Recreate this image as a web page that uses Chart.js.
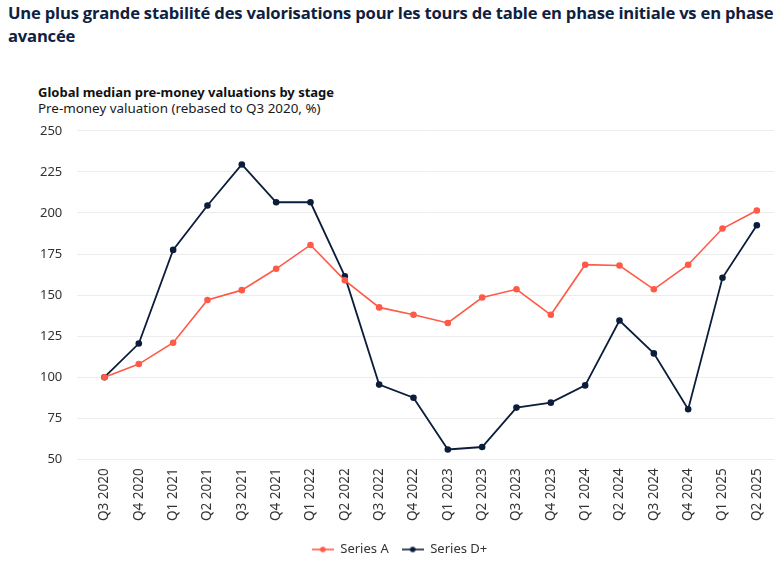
<!DOCTYPE html>
<html>
<head>
<meta charset="utf-8">
<script src="https://cdn.jsdelivr.net/npm/chart.js@4"></script>
<style>
  html, body { margin: 0; padding: 0; background: #fff; }
  body { width: 783px; height: 565px; position: relative; overflow: hidden; font-family: "Noto Sans", sans-serif; }
  #heading {
    position: absolute; left: 8px; top: 1px; width: 770px;
    font-family: "Open Sans", "Noto Sans", sans-serif; font-weight: 700; font-size: 16.6px;
    line-height: 23px; color: #0f2140; letter-spacing: -0.2px;
  }
  .sub { position: absolute; left: 38px; font-size: 13.4px; line-height: 16px; color: #1a1a1a; white-space: nowrap; }
  #sub1 { top: 84px; font-weight: 700; font-size: 13px; color: #111; }
  #sub2 { top: 100px; }
  #wrap { position: absolute; left: 25px; top: 108px; width: 758px; height: 458px; }
</style>
</head>
<body>
<div id="heading">Une plus grande stabilité des valorisations pour les tours de table en phase initiale vs en phase avancée</div>
<div class="sub" id="sub1">Global median pre-money valuations by stage</div>
<div class="sub" id="sub2">Pre-money valuation (rebased to Q3 2020, %)</div>
<div id="wrap"><canvas id="chart"></canvas></div>
<script>
// quarters on the x axis
const quarters = ['Q3 2020', 'Q4 2020', 'Q1 2021', 'Q2 2021', 'Q3 2021', 'Q4 2021', 'Q1 2022', 'Q2 2022',
    'Q3 2022', 'Q4 2022', 'Q1 2023', 'Q2 2023', 'Q3 2023', 'Q4 2023', 'Q1 2024', 'Q2 2024',
    'Q3 2024', 'Q4 2024', 'Q1 2025', 'Q2 2025'];

// rebased pre-money valuations (Q3 2020 = 100)
const seriesA = [100, 108, 121, 147, 153, 166, 180.5, 159, 142.5, 138, 133, 148.5, 153.5, 138,
    168.5, 168, 153.5, 168.5, 190.5, 201.5];
const seriesD = [100, 120.5, 177.5, 204.5, 229.5, 206.5, 206.5, 161.5, 95.5, 87.5, 56, 57.5, 81.5, 84.5,
    95, 134.5, 114.5, 80.5, 160.5, 192.5];

const yTicks = [50, 75, 100, 125, 150, 175, 200, 225, 250];

const orange = '#ff5a47';
const navy = '#0c1d3b';

// small legend marker: line with a dot in the middle
function legendMarker(color) {
    const c = document.createElement('canvas');
    c.width = 22; c.height = 10;
    const g = c.getContext('2d');
    g.strokeStyle = color; g.lineWidth = 1.6;
    g.beginPath(); g.moveTo(0, 5); g.lineTo(22, 5); g.stroke();
    g.fillStyle = color;
    g.beginPath(); g.arc(11, 5, 2.8, 0, Math.PI * 2); g.fill();
    return c;
}

const ctx = document.getElementById('chart').getContext('2d');
new Chart(ctx, {
    type: 'line',
    data: {
        labels: quarters,
        datasets: [{
            label: 'Series A',
            data: seriesA,
            borderColor: orange,
            backgroundColor: orange,
            borderWidth: 1.6,
            pointRadius: 3.3,
            pointBorderWidth: 0,
            pointHoverRadius: 4,
            tension: 0
        }, {
            label: 'Series D+',
            data: seriesD,
            borderColor: navy,
            backgroundColor: navy,
            borderWidth: 1.8,
            pointRadius: 3.3,
            pointBorderWidth: 0,
            pointHoverRadius: 4,
            tension: 0
        }]
    },
    options: {
        responsive: true,
        maintainAspectRatio: false,
        animation: false,
        layout: { padding: { left: 0, right: 9, top: 0, bottom: 0 } },
        scales: {
            x: {
                offset: true,
                grid: { display: false, drawTicks: false },
                border: { display: false },
                ticks: {
                    color: '#333',
                    font: { family: 'Noto Sans', size: 13.5 },
                    maxRotation: 90, minRotation: 90,
                    autoSkip: false,
                    padding: 9
                }
            },
            y: {
                min: 50, max: 250,
                afterBuildTicks: axis => { axis.ticks = yTicks.map(v => ({ value: v })); },
                grid: { color: '#ececec', lineWidth: 1, tickLength: 10, tickColor: '#ececec' },
                border: { display: false },
                ticks: {
                    color: '#333',
                    font: { family: 'Noto Sans', size: 13 },
                    padding: 15
                }
            }
        },
        plugins: {
            legend: {
                position: 'bottom',
                labels: {
                    color: '#333',
                    font: { family: 'Noto Sans', size: 13 },
                    usePointStyle: true,
                    pointStyleWidth: 22,
                    padding: 13,
                    generateLabels: chart => chart.data.datasets.map((ds, i) => ({
                        text: ds.label,
                        pointStyle: legendMarker(ds.borderColor),
                        fillStyle: ds.borderColor,
                        strokeStyle: ds.borderColor,
                        fontColor: '#333',
                        lineWidth: 0,
                        hidden: !chart.isDatasetVisible(i),
                        datasetIndex: i
                    }))
                }
            },
            tooltip: { enabled: true }
        }
    }
});
</script>
</body>
</html>
